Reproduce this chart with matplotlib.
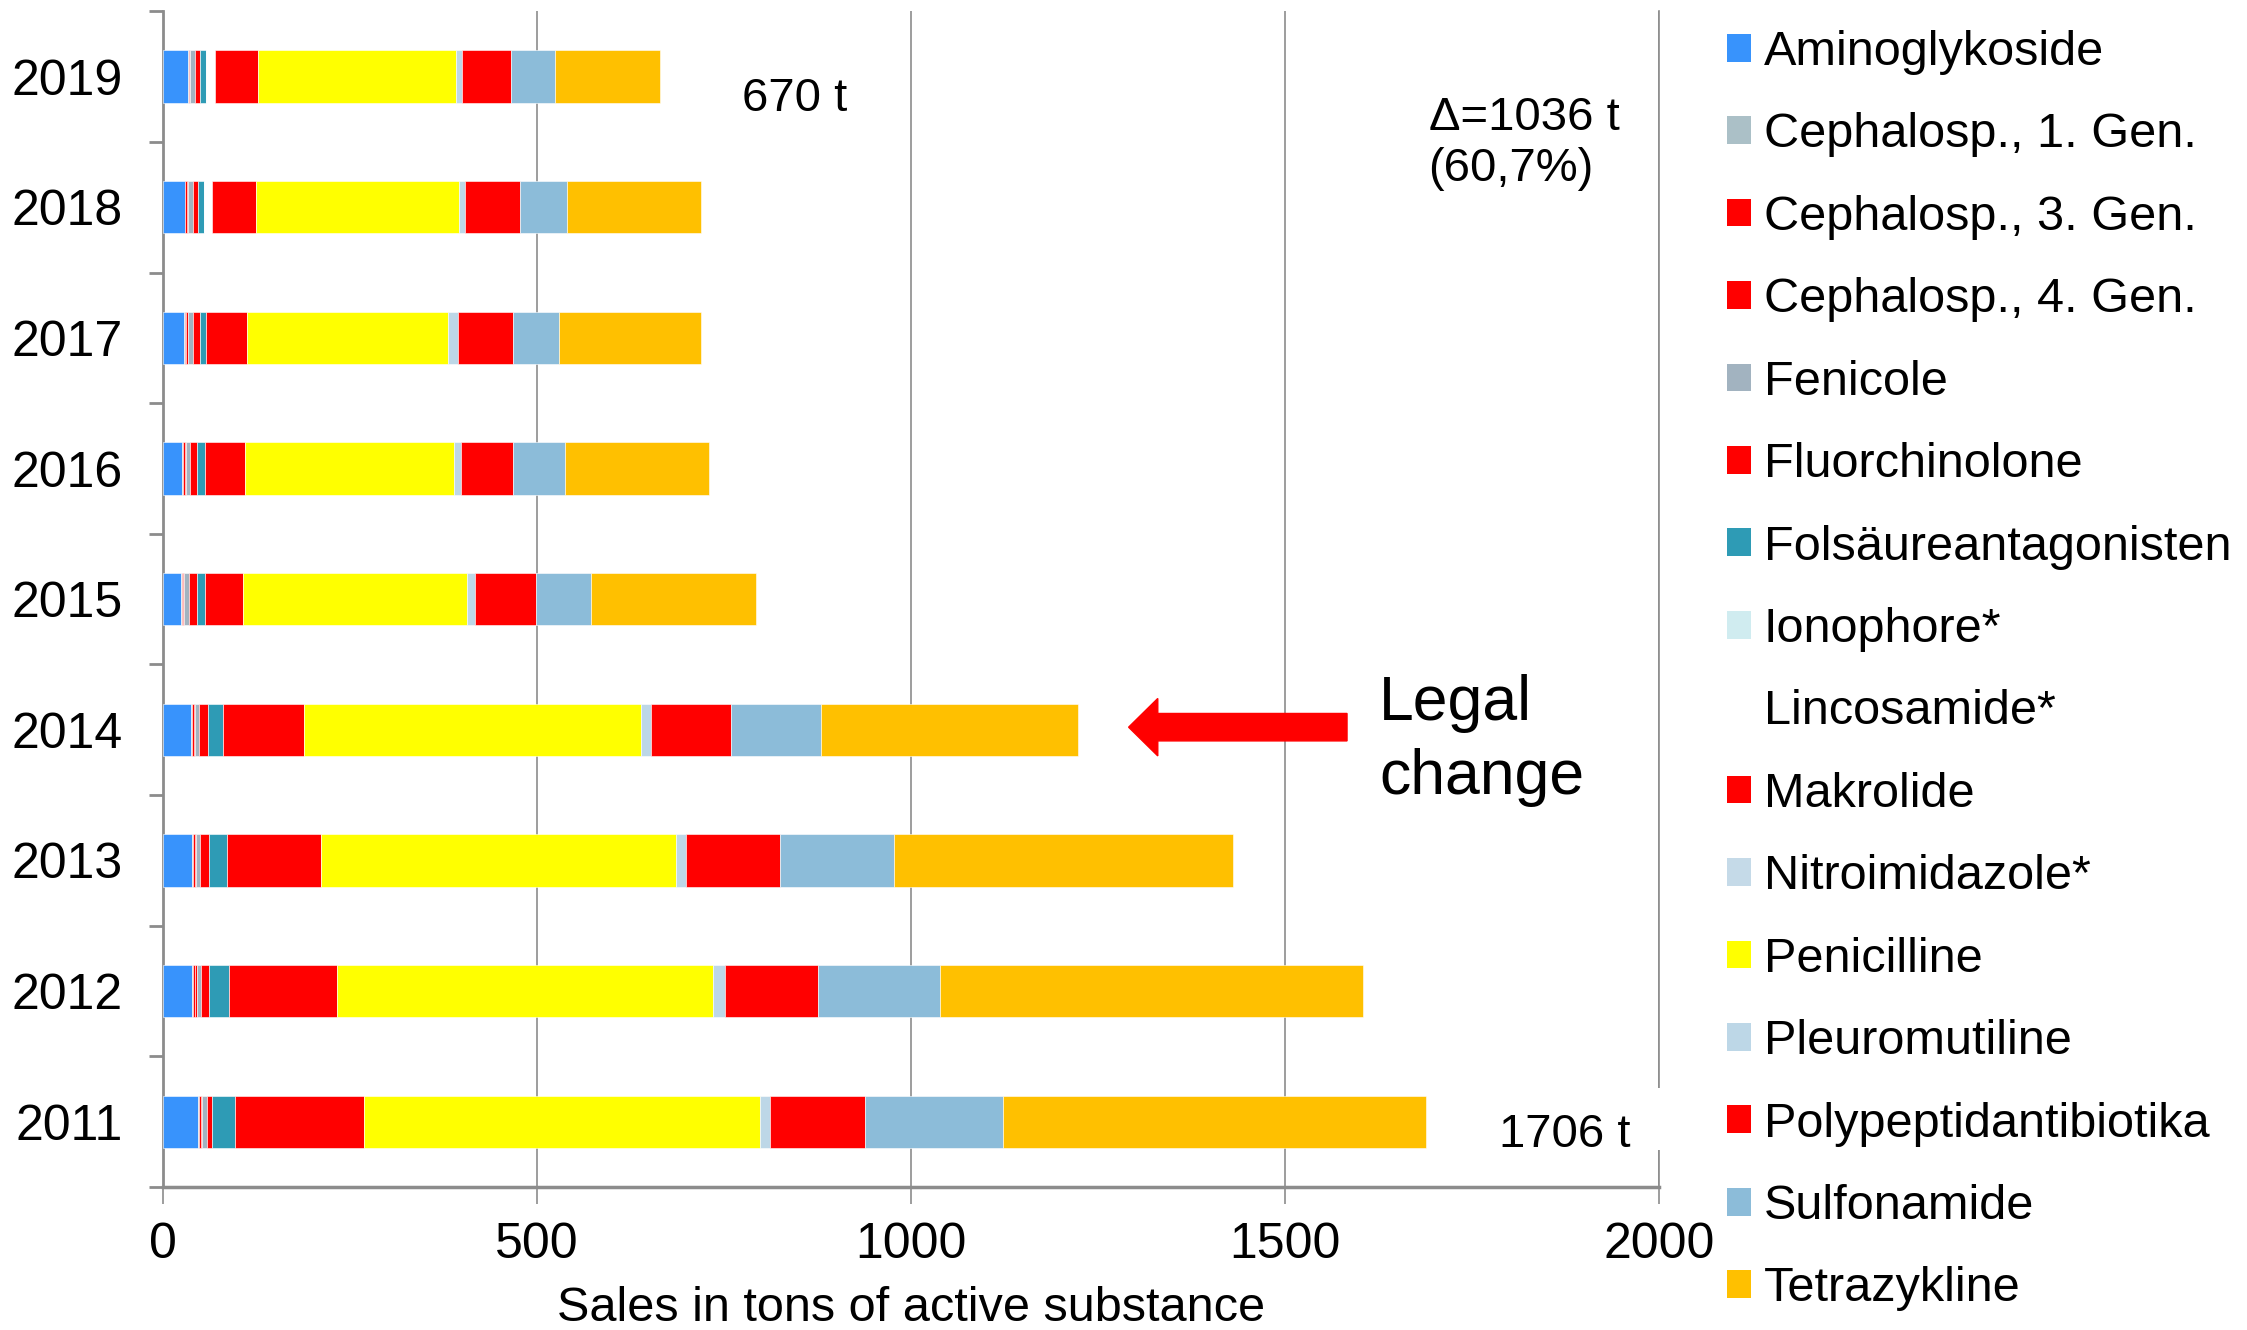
import matplotlib
matplotlib.use('Agg')
import matplotlib.pyplot as plt
import numpy as np
from matplotlib.patches import Patch, Rectangle

plt.rcParams['font.family'] = ['Liberation Sans', 'DejaVu Sans']

years = ['2019', '2018', '2017', '2016', '2015', '2014', '2013', '2012', '2011']

# tons of active substance per class, same order as years
aminoglykoside = [33.9, 29.4, 28.5, 25.9, 24.1, 37.4, 39.2, 39.2, 47.2]
ceph1 = [0.8, 0.8, 0.8, 1.0, 1.0, 1.6, 1.5, 1.6, 1.0]
ceph3 = [1.2, 1.8, 2.2, 2.5, 1.6, 2.4, 2.2, 2.7, 2.6]
ceph4 = [0.6, 1.0, 1.5, 1.3, 0.9, 1.4, 1.2, 1.5, 1.3]
fenicole = [6.7, 6.7, 6.7, 5.4, 6.7, 5.8, 5.8, 6.2, 6.3]
fluorchinolone = [6.3, 7.5, 9.8, 9.4, 11.2, 12.0, 11.6, 10.3, 7.5]
folsaeure = [8.0, 8.1, 8.0, 10.2, 10.2, 19.6, 24.1, 26.3, 30.4]
ionophore = [0, 0, 0, 0, 0, 0, 0, 0, 0]
lincosamide = [12.4, 9.8, 0, 0, 0, 0, 0, 0, 0]
makrolide = [57.1, 59.2, 54.8, 53.9, 51.3, 108.7, 125.6, 144.8, 172.8]
nitroimidazole = [0, 0, 0, 0, 0, 0, 0, 0, 0]
penicilline = [265.0, 271.3, 268.7, 279.2, 299.7, 450.1, 475.3, 502.2, 529.3]
pleuromutiline = [7.5, 8.4, 13.8, 10.2, 10.3, 13.4, 13.4, 17.1, 13.4]
polypeptid = [65.8, 73.4, 73.2, 69.0, 82.3, 106.6, 125.3, 123.5, 127.1]
sulfonamide = [58.7, 63.1, 62.0, 69.0, 72.7, 120.7, 152.2, 163.0, 184.5]
tetrazykline = [140.4, 178.2, 188.7, 193.6, 221.5, 343.0, 453.8, 565.7, 565.1]

labels = ['Aminoglykoside', 'Cephalosp., 1. Gen.', 'Cephalosp., 3. Gen.',
          'Cephalosp., 4. Gen.', 'Fenicole', 'Fluorchinolone',
          'Folsäureantagonisten', 'Ionophore*', 'Lincosamide*', 'Makrolide',
          'Nitroimidazole*', 'Penicilline', 'Pleuromutiline',
          'Polypeptidantibiotika', 'Sulfonamide', 'Tetrazykline']
series = [aminoglykoside, ceph1, ceph3, ceph4, fenicole, fluorchinolone,
          folsaeure, ionophore, lincosamide, makrolide, nitroimidazole,
          penicilline, pleuromutiline, polypeptid, sulfonamide, tetrazykline]
colors = ['#3893FC', '#ABC0C7', '#FF0000', '#FF0000', '#A2B3C0', '#FF0000',
          '#2E9BB5', '#D0ECF0', '#FFFFFF', '#FF0000', '#C5DAE8', '#FFFF00',
          '#BDD7E7', '#FF0000', '#8CBCD9', '#FFC000']

fig = plt.figure(figsize=(22.47, 13.30), dpi=100)
ax = fig.add_axes([0.0725, 0.1075, 0.6658, 0.884])

y = np.arange(len(years))
left = np.zeros(len(years))
for vals, c in zip(series, colors):
    vals = np.array(vals)
    ax.barh(y, vals, left=left, height=0.4, color=c, edgecolor='white',
            linewidth=0.4, zorder=3)
    left += vals

ax.set_xlim(0, 2000)
ax.set_ylim(8.5, -0.5)
ax.set_xticks([0, 500, 1000, 1500, 2000])
ax.set_yticks(y)
ax.set_yticklabels(years)
ax.set_yticks(np.arange(-0.5, 9, 1), minor=True)
ax.tick_params(axis='y', which='major', length=0, pad=29, labelsize=36)
ax.tick_params(axis='y', which='minor', length=10, width=2, color='#8c8c8c')
ax.tick_params(axis='x', length=12, width=1.2, color='#8c8c8c', pad=13,
               labelsize=36)
ax.grid(axis='x', color='#8c8c8c', linewidth=1.2, zorder=1)
ax.set_axisbelow(True)

ax.spines['top'].set_visible(False)
ax.spines['left'].set_color('#8c8c8c')
ax.spines['left'].set_linewidth(2)
ax.spines['bottom'].set_color('#8c8c8c')
ax.spines['bottom'].set_linewidth(2.5)
ax.spines['right'].set_color('#8c8c8c')
ax.spines['right'].set_linewidth(1.2)

ax.set_xlabel('Sales in tons of active substance', fontsize=35, labelpad=13)

ax.text(774, 0.17, '670 t', fontsize=34, va='center', ha='left', zorder=5)
ax.text(1692, 0.51, 'Δ=1036 t\n(60,7%)', fontsize=34, va='center', ha='left',
        linespacing=1.2, zorder=5)
# white patch behind the total label, breaking the right frame line
ax.add_patch(Rectangle((1770, 7.74), 245, 0.48, facecolor='white',
                       edgecolor='none', zorder=4, clip_on=False))
ax.text(1786, 8.1, '1706 t', fontsize=34, va='center', ha='left', zorder=5)
ax.text(1626, 5.08, 'Legal\nchange', fontsize=45, va='center', ha='left',
        linespacing=1.32, zorder=5)
ax.arrow(1583, 4.98, -292, 0, width=0.21, head_width=0.44, head_length=39,
         length_includes_head=True, color='#FF0000', zorder=5)

handles = [Patch(facecolor=c, edgecolor='none') for c in colors]
fig.legend(handles, labels, loc='upper left', bbox_to_anchor=(0.7686, 0.9775),
           frameon=False, fontsize=35, handlelength=0.5, handleheight=0.5,
           handletextpad=0.25, labelspacing=0.77, borderpad=0,
           borderaxespad=0)

plt.savefig('out.png', dpi=100)
